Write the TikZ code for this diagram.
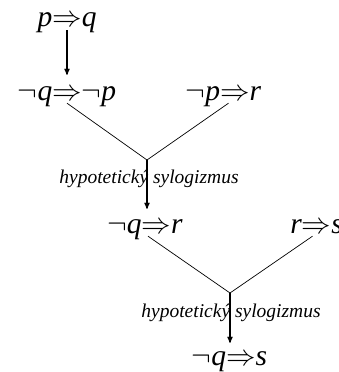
\documentclass[tikz,border=0pt]{standalone}
\usepackage{fix-cm}
\usepackage{fontspec}
\setmainfont{Liberation Serif}
\usetikzlibrary{arrows,positioning}

\newcommand{\imp}{$\Rightarrow$}
\newcommand{\non}{$\neg$}

\begin{document}
\begin{tikzpicture}[x=1pt,y=1pt,node distance=73pt,>=stealth']
  \useasboundingbox (0,0) rectangle (338,-372);
  \tikzset{
    formula/.style={font=\fontsize{29.5}{31}\selectfont\itshape, inner sep=0pt, text height=19pt, text depth=3pt},
    ruleName/.style={font=\fontsize{19.5}{21}\selectfont\itshape, inner sep=0pt, text height=14pt, text depth=5pt},
    hspace/.style={node distance=156.5pt},
    % edge styles
    ruleArrow/.style={->, line width=1.2pt, shorten >=5pt},
    premiseLine/.style={line width=.7pt}
  }

  % Formulas
  \node [formula] (pq) at (67,-19)                       {p\imp q};
  \node [formula] (nqnp) [below of=pq]                   {\non q\imp\non p};
  \node [formula, hspace] (npr) [right of=nqnp]          {\non p\imp r};

  \node [formula] (nqr) at (145,-225)                    {\non q\imp r};
  \node [formula, node distance=171.5pt] (rs) [right of=nqr] {r\imp s};

  \node [formula] (nqs) at (229.5,-357)                  {\non q\imp s};

  % Junctions
  \coordinate (join1) at (147,-160);
  \coordinate (join2) at (230,-293);

  % Rule labels
  \node [ruleName] (hs1) at (149,-178.5)                 {hypotetický sylogizmus};
  \node [ruleName] (hs2) at (231,-312.5)                 {hypotetický sylogizmus};

  % Contraposition
  \draw [ruleArrow, shorten >=6pt] (pq.south) -- (nqnp.north);

  % Premises
  \draw [premiseLine] (nqnp.south) -- (join1) -- ([xshift=5pt]npr.south);
  \draw [premiseLine] ([xshift=3pt]nqr.south) -- (join2) -- ([xshift=-4pt]rs.south);

  % Conclusions
  \draw [ruleArrow] (join1) -- (join1 |- nqr.north);
  \draw [ruleArrow, shorten >=3pt] (join2) -- (join2 |- nqs.north);

\end{tikzpicture}
\end{document}
